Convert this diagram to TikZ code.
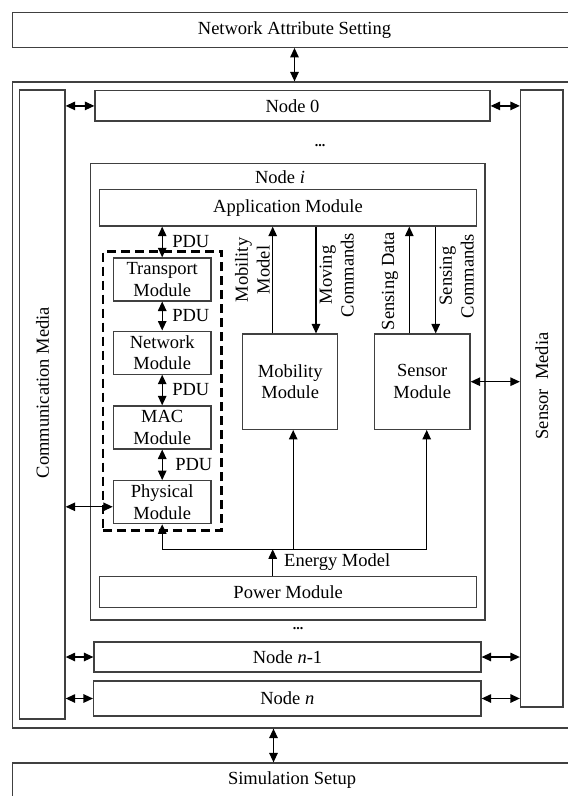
\documentclass[tikz,border=0pt]{standalone}
\usepackage{fontspec}
\setmainfont{Liberation Serif}
\usetikzlibrary{arrows.meta,positioning,fit}

\begin{document}
\begin{tikzpicture}[
  x=1pt,y=-1pt,
  font=\fontsize{18.5}{21.7}\selectfont,
  box/.style={draw=black!75,line width=1.2pt,inner sep=0pt,align=center},
  lay/.style={box,minimum width=97.7pt,minimum height=43pt},
  arr/.style={-{Triangle[length=9.5pt,width=8.5pt]},line width=1.3pt},
  darr/.style={{Triangle[length=9.5pt,width=8.5pt]}-{Triangle[length=9.5pt,width=8.5pt]},line width=1.3pt},
  pdu/.style={anchor=west,inner sep=0pt,xshift=9.5pt},
  vlbl/.style={rotate=90,align=center,inner sep=0pt},
  dots/.style={font=\fontsize{14}{16}\selectfont\bfseries,inner sep=0pt}
]
  \useasboundingbox (0,0) rectangle (568,796);
  \clip (0,0) rectangle (568,796);

  \node[box,minimum width=563.6pt,minimum height=34.6pt] (nas) at (294.5,30) {Network Attribute Setting};
  \node[box,minimum width=563.6pt,minimum height=646pt] (outer) at (294.5,405) {};
  \node[box,minimum width=558.6pt,minimum height=34.6pt] (sim) at (292,780.3) {Simulation Setup};

  \node[box,minimum width=45.7pt,minimum height=629pt] (comm) at (42.2,404.5) {};
  \node[vlbl] (commlbl) at (42.5,392.5) {Communication Media};
  \node[box,minimum width=42.5pt,minimum height=617pt] (smed) at (541.7,398.5) {};
  \node[vlbl] (smedlbl) at (541.7,386) {Sensor~~Media};

  \node[box,minimum width=395pt,minimum height=30.3pt] (n0) at (292.5,105.9) {Node 0};
  \node[dots] (dots1) at (320,146) {...};
  \node[box,minimum width=394.4pt,minimum height=456.7pt] (ni) at (287.8,391.7) {};
  \node[inner sep=0pt] (nilbl) at (280,177) {Node \textit{i}};
  \node[dots] (dots2) at (298,629) {...};
  \node[box,minimum width=387pt,minimum height=30pt] (n1) at (287.5,657) {Node \textit{n}-1};
  \node[box,minimum width=387.5pt,minimum height=35pt] (nn) at (287.3,698.5) {Node \textit{n}};

  \node[box,minimum width=376.8pt,minimum height=36.7pt] (app) at (288,207.7) {Application Module};
  \node[lay] (tr) at (162.2,279.4) {Transport\\Module};
  \node[lay,below=29pt of tr] (net) {Network\\Module};
  \node[lay,below=30.6pt of net] (mac) {MAC\\Module};
  \node[lay,below=30.6pt of mac] (phys) {Physical\\Module};
  \node[draw,line width=2.5pt,dash pattern=on 9pt off 5pt,inner xsep=10pt,inner ysep=6pt,fit=(tr)(phys)] (stack) {};

  \node[box,minimum width=95pt,minimum height=95.3pt] (mob) at (290.2,381.7) {Mobility\\Module};
  \node[box,minimum width=95.7pt,minimum height=95.3pt] (sen) at (422.2,381.7) {Sensor\\Module};
  \node[box,minimum width=377.1pt,minimum height=31pt] (pw) at (288.2,592.2) {Power Module};

  \draw[darr] (nas.south) -- (outer.north);
  \draw[darr] ([xshift=-21pt]outer.south) -- ([xshift=-21pt]outer.south |- sim.north);
  \foreach \n in {n0,n1,nn} {
    \draw[darr] (\n.west) -- (\n.west -| comm.east);
    \draw[darr] (\n.east) -- (\n.east -| smed.west);
  }

  \draw[darr] (app.south -| tr.north) -- node[pdu] (pdu1) {PDU} (tr.north);
  \draw[darr] (tr) -- node[pdu] (pdu2) {PDU} (net);
  \draw[darr] (net) -- node[pdu] (pdu3) {PDU} (mac);
  \draw[darr] (mac) -- node[pdu,xshift=3pt] (pdu4) {PDU} (phys);
  \draw[darr] ([yshift=-4.6pt]phys.west -| comm.east) -- ([yshift=-4.6pt]phys.west);

  \draw[arr] ([xshift=-17.5pt]mob.north) -- ([xshift=-17.5pt]mob.north |- app.south);
  \draw[arr] ([xshift=25.8pt]mob.north |- app.south) -- ([xshift=25.8pt]mob.north);
  \draw[arr] ([xshift=-12.9pt]sen.north) -- ([xshift=-12.9pt]sen.north |- app.south);
  \draw[arr] ([xshift=13.5pt]sen.north |- app.south) -- ([xshift=13.5pt]sen.north);
  \node[vlbl] (mobm) at (252.5,270) {Mobility\\Model};
  \node[vlbl] (movc) at (336.7,275) {Moving\\Commands};
  \node[vlbl] (sdat) at (390,281) {Sensing Data};
  \node[vlbl] (scmd) at (456.7,276) {Sensing\\Commands};
  \draw[darr] (sen.east) -- (sen.east -| smed.west);

  \coordinate (ej) at (272.7,549.3);
  \draw[arr] (pw.north -| ej) -- (ej);
  \draw[arr] (ej) -| (phys.south);
  \draw[arr] (ej) -| ([xshift=3pt]mob.south);
  \draw[arr] (ej) -| ([xshift=4.5pt]sen.south);
  \node[anchor=west,inner sep=0pt] (emod) at (284,562) {Energy Model};
\end{tikzpicture}
\end{document}
